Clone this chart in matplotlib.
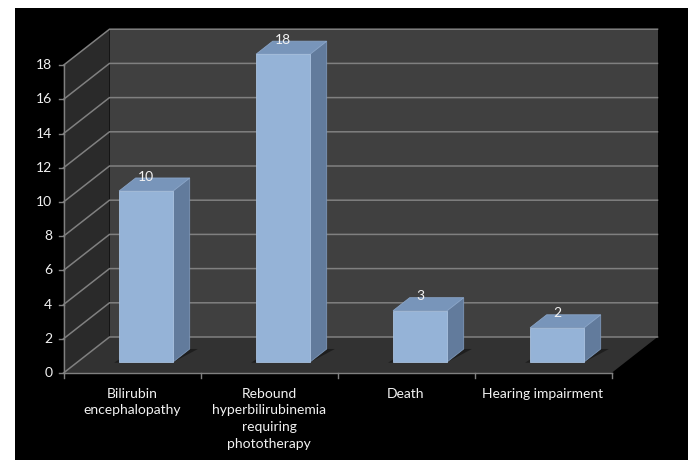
import matplotlib.pyplot as plt
from matplotlib.patches import Polygon, Rectangle

# chart data
categories = ['Bilirubin\nencephalopathy',
              'Rebound\nhyperbilirubinemia\nrequiring\nphototherapy',
              'Death',
              'Hearing impairment']
values = [10, 18, 3, 2]
y_ticks = [0, 2, 4, 6, 8, 10, 12, 14, 16, 18]

# styling / layout
W, H = 694, 462
X0_PX, PX_PER_CAT = 63.5, 137.0      # front axis position, width of one category
Y0_PX, PX_PER_UNIT = 89.0, 17.1      # value 0 height from bottom, pixels per unit
DX = 46 / PX_PER_CAT                 # oblique depth offset in data units
DY = 36 / PX_PER_UNIT
BAR_W = 0.394
Z_FRONT, Z_BACK = 0.306, 0.667

FONT = ['Lato', 'DejaVu Sans']
TXT = '#f2f2f2'
GRID = '#808080'


def proj(x, v, z):
    return (x + z * DX, v + z * DY)


def poly(ax, pts, fc, ec='none', lw=0, z=1):
    ax.add_patch(Polygon(pts, closed=True, facecolor=fc, edgecolor=ec, linewidth=lw, zorder=z))


fig = plt.figure(figsize=(W / 100, H / 100), dpi=100)
fig.patch.set_facecolor('white')
fig.add_artist(Rectangle((15 / W, 2 / H), 673 / W, 452 / H, transform=fig.transFigure,
                         facecolor='black', edgecolor='none', zorder=0))

ax = fig.add_axes([0, 0, 1, 1])
ax.set_xlim(-X0_PX / PX_PER_CAT, (W - X0_PX) / PX_PER_CAT)
ax.set_ylim(-Y0_PX / PX_PER_UNIT, (H - Y0_PX) / PX_PER_UNIT)
ax.axis('off')
ax.patch.set_alpha(0)

n = len(categories)
vmax = y_ticks[-1]

# walls and floor
poly(ax, [proj(0, 0, 0), proj(0, 0, 1), proj(0, vmax, 1), proj(0, vmax, 0)], '#2a2a2a')
poly(ax, [proj(0, 0, 1), proj(n, 0, 1), proj(n, vmax, 1), proj(0, vmax, 1)], '#404040')
poly(ax, [proj(0, 0, 0), proj(n, 0, 0), proj(n, 0, 1), proj(0, 0, 1)], '#323232')

# gridlines on back wall and side wall
for t in y_ticks:
    xs, ys = zip(proj(0, t, 0), proj(0, t, 1), proj(n, t, 1))
    ax.plot(xs, ys, color=GRID, lw=1.1, zorder=2)

# front axes
ax.plot([0, 0], [0, vmax], color=GRID, lw=1, zorder=2)
ax.plot([0, n], [0, 0], color=GRID, lw=1, zorder=2)
for t in y_ticks:
    ax.plot([-0.035, 0], [t, t], color=GRID, lw=1, zorder=2)
    ax.annotate(str(t), (0, t), xytext=(-8, 0), textcoords='offset points',
                ha='right', va='center', color=TXT, fontsize=10, family=FONT)
for i in range(n + 1):
    ax.plot([i, i], [0, -0.3], color=GRID, lw=1, zorder=2)

# bars
for i, (cat, v) in enumerate(zip(categories, values)):
    x1 = i + 0.5 - BAR_W / 2
    x2 = i + 0.5 + BAR_W / 2
    # shadow on floor
    poly(ax, [proj(x1 - 0.03, 0, Z_FRONT - 0.02), proj(x2, 0, Z_FRONT - 0.02),
              proj(x2 + 0.06, 0, Z_BACK), proj(x1, 0, Z_BACK)], '#1e1e1e', z=3)
    # side
    poly(ax, [proj(x2, 0, Z_FRONT), proj(x2, 0, Z_BACK), proj(x2, v, Z_BACK), proj(x2, v, Z_FRONT)],
         '#627b9c', ec='#7d97b8', lw=0.6, z=4)
    # top
    poly(ax, [proj(x1, v, Z_FRONT), proj(x2, v, Z_FRONT), proj(x2, v, Z_BACK), proj(x1, v, Z_BACK)],
         '#7895ba', ec='#8aa5c8', lw=0.6, z=4)
    # front
    poly(ax, [proj(x1, 0, Z_FRONT), proj(x2, 0, Z_FRONT), proj(x2, v, Z_FRONT), proj(x1, v, Z_FRONT)],
         '#95b3d7', ec='#a9c2e0', lw=0.6, z=5)
    lx, ly = proj(i + 0.5, v, Z_BACK)
    ax.annotate(str(v), (proj(i + 0.5, v, Z_FRONT)[0], ly), xytext=(0, 1), textcoords='offset points',
                ha='center', va='center', color=TXT, fontsize=10, family=FONT, zorder=6)
    ax.annotate(cat, (i + 0.5, 0), xytext=(0, -10.5), textcoords='offset points',
                ha='center', va='top', color=TXT, fontsize=10, family=FONT, linespacing=1.47)

fig.savefig('out.png', dpi=100, facecolor='white')
